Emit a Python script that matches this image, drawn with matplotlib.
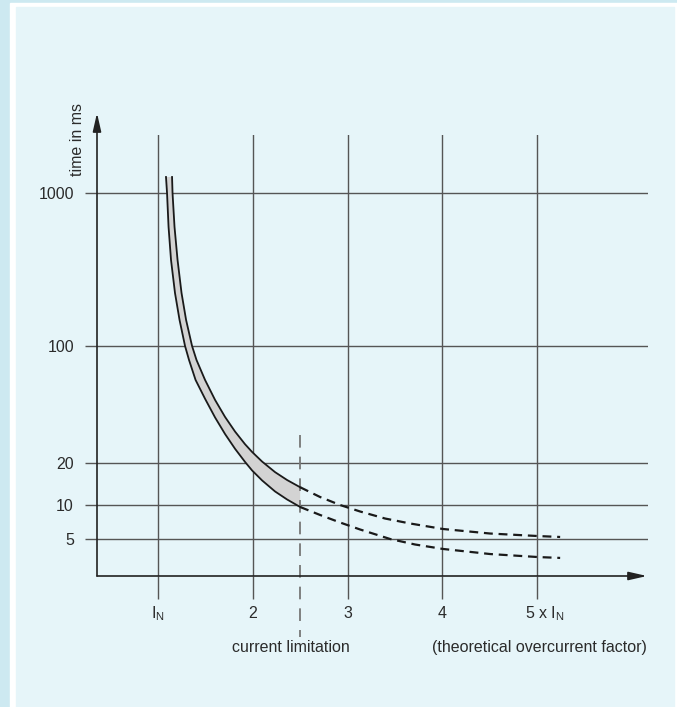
import numpy as np
import matplotlib
matplotlib.use("Agg")
import matplotlib.pyplot as plt
from matplotlib.patches import Rectangle

plt.rcParams["font.family"] = ["Liberation Sans", "DejaVu Sans"]
plt.rcParams["mathtext.fontset"] = "custom"
plt.rcParams["mathtext.rm"] = "Liberation Sans"

# ---- data -------------------------------------------------------------
FACTOR_TICKS = [1, 2, 3, 4, 5]
TIME_TICKS = [5, 10, 20, 100, 1000]
TIME_LABELS = ["5", "10", "20", "100", "1000"]
CURRENT_LIMIT = 2.5

# tripping band, slow edge (upper/right)
band_upper_x = [1.148, 1.153, 1.174, 1.206, 1.248, 1.296, 1.359, 1.406, 1.496,
                1.602, 1.707, 1.813, 1.918, 1.992, 2.098, 2.235, 2.362, 2.500]
band_upper_t = [1272, 1000, 600, 365, 222, 148, 100, 82.5, 62.7,
                47.6, 37.7, 30.8, 25.9, 23.3, 20.4, 17.2, 15.1, 13.4]
# tripping band, fast edge (lower/left)
band_lower_x = [1.084, 1.095, 1.111, 1.137, 1.179, 1.227, 1.285, 1.327, 1.396,
                1.496, 1.602, 1.707, 1.813, 1.918, 1.992, 2.098, 2.235, 2.362, 2.500]
band_lower_t = [1272, 1000, 600, 365, 222, 148, 100, 82.5, 62.7,
                48.4, 37.4, 29.8, 24.3, 20.3, 17.7, 15.0, 12.5, 10.95, 9.6]

# theoretical continuation beyond current limitation
theo_upper_x = [2.500, 2.710, 2.921, 3.132, 3.396, 3.660, 4.008, 4.504, 5.011, 5.243]
theo_upper_t = [13.4, 11.41, 10.0, 8.76, 7.59, 6.86, 6.13, 5.59, 5.31, 5.21]
theo_lower_x = [2.500, 2.710, 2.921, 3.132, 3.449, 3.712, 4.008, 4.504, 5.011, 5.243]
theo_lower_t = [9.6, 8.16, 7.00, 6.07, 5.00, 4.47, 4.08, 3.68, 3.46, 3.40]

# ---- schematic time axis: piecewise log scale --------------------------
LK = np.log10(np.array(TIME_TICKS, float))
PK = np.array([37.0, 71.0, 113.0, 230.0, 383.0])
LO = (PK[1] - PK[0]) / (LK[1] - LK[0])
HI = (PK[-1] - PK[-2]) / (LK[-1] - LK[-2])


def to_pos(t):
    lt = np.log10(np.maximum(np.asarray(t, float), 1e-9))
    p = np.interp(lt, LK, PK)
    p = np.where(lt < LK[0], PK[0] + (lt - LK[0]) * LO, p)
    p = np.where(lt > LK[-1], PK[-1] + (lt - LK[-1]) * HI, p)
    return p


def from_pos(p):
    p = np.asarray(p, float)
    lt = np.interp(p, PK, LK)
    lt = np.where(p < PK[0], LK[0] + (p - PK[0]) / LO, lt)
    lt = np.where(p > PK[-1], LK[-1] + (p - PK[-1]) / HI, lt)
    return 10 ** lt


# ---- figure -----------------------------------------------------------
W, H = 677, 707
fig = plt.figure(figsize=(W / 100, H / 100), dpi=100, facecolor="#cde9f1")
fig.patches.append(Rectangle((10 / W, 0), (W - 10) / W, (H - 3) / H,
                             transform=fig.transFigure, color="white", zorder=-2))
fig.patches.append(Rectangle((16 / W, 0), (674 - 16) / W, (H - 7) / H,
                             transform=fig.transFigure, color="#e6f5f9", zorder=-1))

AX_L, AX_R, AX_B, AX_T = 97, 648, 576, 135
ax = fig.add_axes([AX_L / W, (H - AX_B) / H, (AX_R - AX_L) / W, (AX_B - AX_T) / H])
ax.set_facecolor("none")
for s in ax.spines.values():
    s.set_visible(False)

ax.set_yscale("function", functions=(to_pos, from_pos))
ax.set_xlim(0.356, 6.17)
ax.set_ylim(float(from_pos(0)), float(from_pos(AX_B - AX_T)))


def ay(py):
    return (AX_B - py) / (AX_B - AX_T)


def axx(px):
    return (px - AX_L) / (AX_R - AX_L)


GRID = "#555555"
INK = "#2b2b2b"
FS = 11.5

ax.set_yticks(TIME_TICKS, labels=TIME_LABELS)
ax.set_xticks(FACTOR_TICKS, labels=[""] * len(FACTOR_TICKS))
ax.minorticks_off()
ax.tick_params(axis="y", length=8.6, width=1.0, color=GRID, pad=8,
               labelsize=FS, labelcolor=INK)
ax.tick_params(axis="x", length=16.5, width=1.0, color=GRID)
ax.grid(True, color=GRID, lw=1.0)
ax.set_axisbelow(True)

# tripping band
ax.fill(np.r_[band_upper_x, band_lower_x[::-1]], np.r_[band_upper_t, band_lower_t[::-1]],
        color="#d3d3d3", lw=0, zorder=1)
ax.plot(band_upper_x, band_upper_t, color="#1a1a1a", lw=1.3, zorder=3)
ax.plot(band_lower_x, band_lower_t, color="#1a1a1a", lw=1.3, zorder=3)
ax.plot(theo_upper_x, theo_upper_t, color="#1a1a1a", lw=1.6, ls=(0, (4, 2.6)), zorder=3)
ax.plot(theo_lower_x, theo_lower_t, color="#1a1a1a", lw=1.6, ls=(0, (4, 2.6)), zorder=3)

# current limitation marker
xt = ax.get_xaxis_transform()
ax.plot([CURRENT_LIMIT, CURRENT_LIMIT], [ay(435), ay(637)], transform=xt,
        color="#777777", lw=1.3, ls=(0, (7, 5)), clip_on=False, zorder=2)

# axes with arrow heads
arrow = dict(arrowstyle="-|>,head_length=1.1,head_width=0.25", lw=1.2,
             color="#222222", shrinkA=0, shrinkB=0)
ax.annotate("", xy=(axx(647), 0), xytext=(0, 0), xycoords="axes fraction",
            arrowprops=arrow, annotation_clip=False, zorder=4)
ax.annotate("", xy=(0, ay(113)), xytext=(0, 0), xycoords="axes fraction",
            arrowprops=arrow, annotation_clip=False, zorder=4)

# labels
ax.text(axx(78), ay(139), "time in ms", transform=ax.transAxes, rotation=90,
        ha="center", va="center", fontsize=FS, color=INK)
base = ay(618)
ax.text(1, base, r"$\mathregular{I_N}$", transform=xt, ha="center",
        va="baseline", fontsize=FS, color=INK)
for v in FACTOR_TICKS[1:4]:
    ax.text(v, base, str(v), transform=xt, ha="center", va="baseline",
            fontsize=FS, color=INK)
ax.text(4.873, base, r"5 x $\mathregular{I_N}$", transform=xt, ha="left",
        va="baseline", fontsize=FS, color=INK)
ax.text(2.40, ay(652), "current limitation", transform=xt, ha="center",
        va="baseline", fontsize=FS, color=INK)
ax.text(5.02, ay(652), "(theoretical overcurrent factor)", transform=xt,
        ha="center", va="baseline", fontsize=FS, color=INK)

fig.savefig("out.png", dpi=100, facecolor=fig.get_facecolor())
